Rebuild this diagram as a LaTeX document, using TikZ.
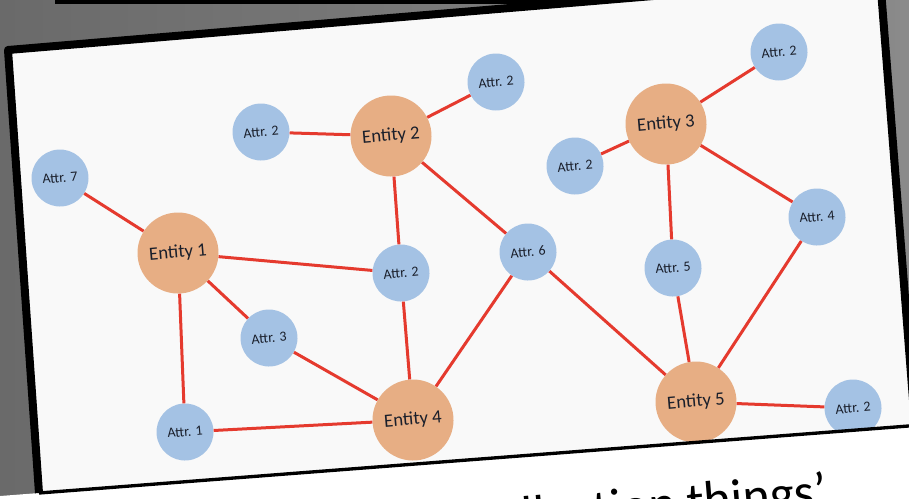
\documentclass[tikz,border=0pt]{standalone}
\usepackage{fontspec}
\setmainfont{Carlito}
\definecolor{attrblue}{HTML}{A4C2E4}
\definecolor{entityorange}{HTML}{E7AE84}
\definecolor{linkred}{HTML}{E53A2E}
\definecolor{cardwhite}{HTML}{F9F9F9}
\definecolor{inkdark}{HTML}{1A1F2B}
\definecolor{bgdark}{HTML}{6A6A6A}
\definecolor{bglight}{HTML}{8A8A8A}
\tikzset{
    entity/.style = {
        circle,
        fill = entityorange,
        text = inkdark,
        inner sep = 0pt,
        minimum size = 2.43cm,
        font = \fontsize{16}{18}\selectfont,
        rotate = 5,
        },
    attr/.style = {
        circle,
        fill = attrblue,
        text = inkdark,
        inner sep = 0pt,
        minimum size = 1.71cm,
        font = \fontsize{12}{14}\selectfont,
        rotate = 5,
        },
    link/.style = {
        draw = linkred,
        line width = 0.09cm,
        },
    frame/.style = {
        draw = black,
        line width = 0.24cm,
        line join = round,
        },
    caption/.style = {
        font = \fontsize{44}{50}\selectfont,
        inner sep = 0pt,
        },
}
\begin{document}
\begin{tikzpicture}[x=0.03cm, y=-0.03cm, every edge/.append style={link}]
    \useasboundingbox (0,0) rectangle (909,498);
    \clip (0,0) rectangle (909,498);
    % backdrop behind the card
    \shade[left color=bgdark, right color=bglight] (0,0) rectangle (909,498);
    \fill[black] (55,0) rectangle (580,4);
    \fill[white] (-5,496.4) -- (920,425.2) -- (920,510) -- (-5,510) -- cycle;
    \fill[cardwhite] (8,50) -- (880,-23) -- (915,425.5) -- (39,493) -- cycle;

    \begin{scope}
        \clip (8,50) -- (880,-23) -- (915,425.5) -- (39,493) -- cycle;
        \node[entity] (e1) at (178,253) {Entity 1};
        \node[entity] (e2) at (391,136) {Entity 2};
        \node[entity] (e3) at (666,124) {Entity 3};
        \node[entity] (e4) at (413,420) {Entity 4};
        \node[entity] (e5) at (696,402) {Entity 5};

        \node[attr] (a7) at (60,178) {Attr. 7};
        \node[attr] (a2w) at (261,132) {Attr. 2};
        \node[attr] (a2n) at (496,82) {Attr. 2};
        \node[attr] (a2c) at (401,273) {Attr. 2};
        \node[attr] (a3) at (269,338) {Attr. 3};
        \node[attr] (a1) at (185,432) {Attr. 1};
        \node[attr] (a6) at (528,252) {Attr. 6};
        \node[attr] (a2e) at (575,166) {Attr. 2};
        \node[attr] (a2ne) at (779,52) {Attr. 2};
        \node[attr] (a5) at (673,268) {Attr. 5};
        \node[attr] (a4) at (817,217) {Attr. 4};
        \node[attr] (a2se) at (853,408) {Attr. 2};

        \path (a7) edge (e1);
        \path (a2w) edge (e2);
        \path (e2) edge (a2n);
        \path (e2) edge (a2c);
        \path (e2) edge (a6);
        \path (e1) edge (a2c);
        \path (e1) edge (a3);
        \path (e1) edge (a1);
        \path (a3) edge (e4);
        \path (a2c) edge (e4);
        \path (a1) edge (e4);
        \path (e4) edge (a6);
        \path (a6) edge (e5);
        \path (a2e) edge (e3);
        \path (e3) edge (a2ne);
        \path (e3) edge (a5);
        \path (e3) edge (a4);
        \path (a5) edge (e5);
        \path (a4) edge (e5);
        \path (e5) edge (a2se);
    \end{scope}

    % card edges
    \draw[frame] (39,493) -- (8,50) -- (880,-23) -- (915,425.5);
    \draw[line width=0.1cm] (39,493) -- (915,425.5);

    \node[caption, anchor=base west, rotate=4.8] (title) at (475,537) {collection things’};
\end{tikzpicture}
\end{document}
